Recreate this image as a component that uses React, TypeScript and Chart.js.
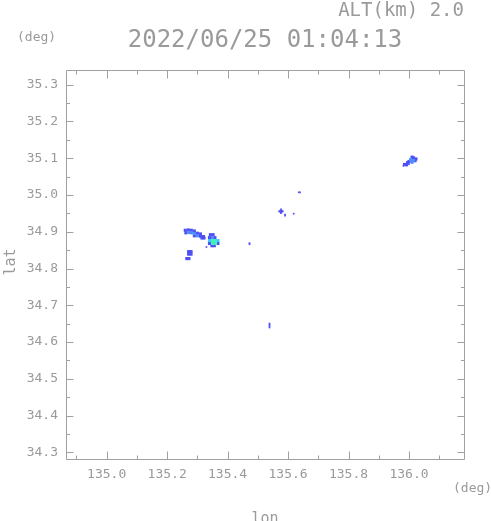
import { useEffect, useRef } from "react";
import { Chart, registerables } from "chart.js";

Chart.register(...registerables);

// ---- axes ----
const lonRange = [134.8654, 136.182];
const latRange = [34.2818, 35.34];
const xTicks = [135.0, 135.2, 135.4, 135.6, 135.8, 136.0];
const xMinorTicks = [134.9, 135.1, 135.3, 135.5, 135.7, 135.9, 136.1];
const yTicks = [34.3, 34.4, 34.5, 34.6, 34.7, 34.8, 34.9, 35.0, 35.1, 35.2, 35.3];
const yMinorTicks = [34.35, 34.45, 34.55, 34.65, 34.75, 34.85, 34.95, 35.05, 35.15, 35.25];

// ---- texts ----
const titleText = "2022/06/25 01:04:13";
const altText = "ALT(km) 2.0";
const xAxisTitle = "lon";
const yAxisTitle = "lat";
const unitText = "(deg)";

// ---- echo cells [lon, lat] ----
const echoWeak = [
  [135.26, 34.904], [135.27, 34.905], [135.28, 34.904], [135.29, 34.902],
  [135.262, 34.897], [135.30, 34.896], [135.31, 34.894],
  [135.29, 34.889], [135.31, 34.888], [135.32, 34.887],
  [135.315, 34.883], [135.322, 34.883],
  [135.343, 34.892], [135.352, 34.892], [135.340, 34.884], [135.358, 34.884],
  [135.340, 34.868], [135.368, 34.868], [135.348, 34.862], [135.356, 34.862],
  [135.271, 34.846], [135.279, 34.846], [135.271, 34.839], [135.279, 34.839],
  [135.265, 34.827], [135.272, 34.827],
  [135.5766, 34.9556],
  [135.985, 35.083], [135.992, 35.082], [135.995, 35.088], [136.0, 35.091],
  [136.015, 35.101], [136.01, 35.103], [136.023, 35.098], [136.02, 35.093],
];
const echoModerate = [
  [135.272, 34.898], [135.28, 34.897], [135.29, 34.895], [135.30, 34.889],
  [135.350, 34.884],
  [136.005, 35.096], [136.015, 35.094], [136.01, 35.089],
];
const echoStrong = [
  [135.340, 34.876], [135.368, 34.876],
];
const echoCore = [
  [135.350, 34.876], [135.360, 34.876], [135.350, 34.868], [135.360, 34.868],
];
const echoSpecks = [
  [135.330, 34.8585],
  [135.4724, 34.866], [135.4724, 34.869],
  [135.5706, 34.9556], [135.5826, 34.9556], [135.5766, 34.9506], [135.5766, 34.9606],
  [135.590, 34.9464], [135.590, 34.944],
  [135.6186, 34.9491],
  [135.6355, 35.0073], [135.6395, 35.0073],
  [135.5386, 34.6395], [135.5386, 34.6431], [135.5386, 34.6467], [135.5386, 34.6503],
  [136.0, 35.084], [135.982, 35.079],
];

const GRAY = "#9a9a9a";
const FRAME = "#a0a0a0";
const MONO = "'DejaVu Sans Mono', monospace";

const toPts = (arr: number[][]) => arr.map(([x, y]) => ({ x, y }));

const framePlugin = {
  id: "frame",
  afterDraw(chart: any) {
    const { ctx, chartArea } = chart;
    const xs = chart.scales.x;
    const ys = chart.scales.y;
    const L = Math.round(chartArea.left) + 0.5;
    const R = Math.round(chartArea.right) + 0.5;
    const T = Math.round(chartArea.top) + 0.5;
    const B = Math.round(chartArea.bottom) + 0.5;
    ctx.save();
    ctx.strokeStyle = FRAME;
    ctx.lineWidth = 1;
    ctx.beginPath();
    ctx.rect(L, T, R - L, B - T);
    const vt = (vals: number[], len: number) => {
      vals.forEach((v) => {
        const p = Math.round(xs.getPixelForValue(v)) + 0.5;
        ctx.moveTo(p, B);
        ctx.lineTo(p, B - len);
        ctx.moveTo(p, T);
        ctx.lineTo(p, T + len);
      });
    };
    const ht = (vals: number[], len: number) => {
      vals.forEach((v) => {
        const p = Math.round(ys.getPixelForValue(v)) + 0.5;
        ctx.moveTo(L, p);
        ctx.lineTo(L + len, p);
        ctx.moveTo(R, p);
        ctx.lineTo(R - len, p);
      });
    };
    vt(xTicks, 8);
    vt(xMinorTicks, 4);
    ht(yTicks, 7);
    ht(yMinorTicks, 3.5);
    ctx.stroke();

    ctx.fillStyle = GRAY;
    ctx.textBaseline = "alphabetic";
    ctx.font = `19px ${MONO}`;
    ctx.textAlign = "right";
    ctx.fillText(altText, 464, 16);
    ctx.font = `24px ${MONO}`;
    ctx.textAlign = "center";
    ctx.fillText(titleText, 265, 47);
    ctx.font = `13px ${MONO}`;
    ctx.textAlign = "left";
    ctx.textBaseline = "middle";
    ctx.fillText(unitText, 17, 38);
    ctx.fillText(unitText, 453, 489);
    ctx.font = `15px ${MONO}`;
    ctx.textAlign = "center";
    ctx.textBaseline = "alphabetic";
    ctx.fillText(xAxisTitle, 265, 523);
    ctx.translate(15, 262);
    ctx.rotate(-Math.PI / 2);
    ctx.fillText(yAxisTitle, 0, 0);
    ctx.restore();
  },
};

export default function App() {
  const ref = useRef<HTMLCanvasElement | null>(null);
  useEffect(() => {
    if (!ref.current) return;
    const mk = (data: number[][], color: string, r: number) => ({
      data: toPts(data),
      backgroundColor: color,
      borderWidth: 0,
      pointStyle: "rect",
      pointRadius: r,
      pointHoverRadius: r,
      pointBorderWidth: 0,
      showLine: false,
    });
    const chart = new Chart(ref.current, {
      type: "scatter",
      data: {
        datasets: [
          mk(echoCore, "#45eebb", 2.2),
          mk(echoStrong, "#3fc6ff", 2.2),
          mk(echoModerate, "#4c8cff", 2.2),
          mk(echoWeak, "#4f4ff5", 2.2),
          mk(echoSpecks, "#4f4ff5", 1.2),
        ] as any,
      },
      options: {
        responsive: false,
        animation: false,
        events: [],
        layout: { padding: { top: 70, right: 27, left: 0, bottom: 0 } },
        plugins: { legend: { display: false }, tooltip: { enabled: false }, title: { display: false } },
        scales: {
          x: {
            type: "linear",
            min: lonRange[0],
            max: lonRange[1],
            afterBuildTicks: (s: any) => {
              s.ticks = xTicks.map((value) => ({ value }));
            },
            afterFit: (s: any) => {
              s.height = 62;
            },
            grid: { display: false, drawTicks: false },
            border: { display: false },
            ticks: {
              color: GRAY,
              font: { family: MONO, size: 13 },
              padding: 8,
              maxRotation: 0,
              autoSkip: false,
              callback: (v: any) => Number(v).toFixed(1),
            },
          },
          y: {
            type: "linear",
            min: latRange[0],
            max: latRange[1],
            afterBuildTicks: (s: any) => {
              s.ticks = yTicks.map((value) => ({ value }));
            },
            afterFit: (s: any) => {
              s.width = 66;
            },
            grid: { display: false, drawTicks: false },
            border: { display: false },
            ticks: {
              color: GRAY,
              font: { family: MONO, size: 13 },
              padding: 8,
              autoSkip: false,
              callback: (v: any) => Number(v).toFixed(1),
            },
          },
        },
      } as any,
      plugins: [framePlugin],
    });
    return () => chart.destroy();
  }, []);
  return (
    <div style={{ position: "fixed", left: 0, top: 0, width: 491, height: 521, background: "#fff" }}>
      <canvas ref={ref} width={491} height={521} style={{ display: "block" }} />
    </div>
  );
}
